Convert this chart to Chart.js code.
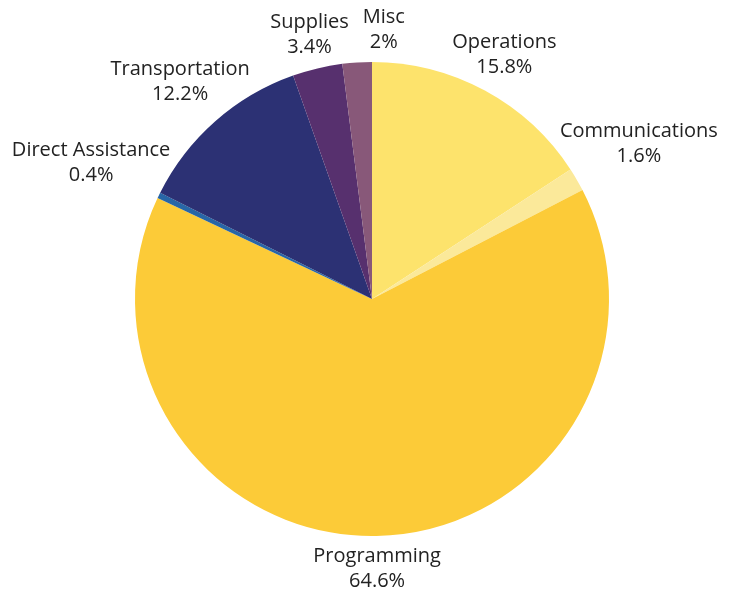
<!DOCTYPE html>
<html><head><meta charset="utf-8">
<script src="https://cdn.jsdelivr.net/npm/chart.js@4/dist/chart.umd.min.js"></script>
<style>html,body{margin:0;padding:0;background:#fff}#wrap{width:736px;height:593px}</style>
</head><body><div id="wrap"><canvas id="c" width="736" height="593"></canvas></div>
<script>
const categories = ["Operations","Communications","Programming","Direct Assistance","Transportation","Supplies","Misc"];
const values = [15.8, 1.6, 64.6, 0.4, 12.2, 3.4, 2];
const valueLabels = ["15.8%","1.6%","64.6%","0.4%","12.2%","3.4%","2%"];
const colors = ["#FDE36C","#FBE99A","#FCCB38","#2866A6","#2C3174","#57306E","#885879"];

const FONT = '20px "Open Sans", Lato, sans-serif';
const LINE_H = 25;

const outsideLabels = {
  id: 'outsideLabels',
  afterDraw(chart) {
    const ctx = chart.ctx;
    const meta = chart.getDatasetMeta(0);
    ctx.save();
    ctx.font = FONT;
    ctx.fillStyle = '#222';
    ctx.textAlign = 'center';
    ctx.textBaseline = 'middle';
    const boxes = [];
    meta.data.forEach((arc, i) => {
      const p = arc.getProps(['x','y','startAngle','endAngle','outerRadius'], true);
      const mid = (p.startAngle + p.endAngle) / 2;
      const c = Math.cos(mid), s = Math.sin(mid);
      const lines = [categories[i], valueLabels[i]];
      const w = Math.max(...lines.map(t => ctx.measureText(t).width));
      const h = LINE_H * 2;
      const rr = p.outerRadius + 33 + 0.66 * c * c * w / 2;
      boxes.push({cx: p.x + rr * c, cy: p.y + rr * s, w, h, lines});
    });
    // simple horizontal collision resolution: push later label right
    for (let i = 1; i < boxes.length; i++) {
      const a = boxes[i-1], b = boxes[i];
      const overlapY = Math.abs(a.cy - b.cy) < (a.h + b.h) / 2;
      if (!overlapY) continue;
      if (b.cx >= a.cx) {
        const gap = (b.cx - b.w/2) - (a.cx + a.w/2);
        if (gap < 14) b.cx += 14 - gap;
      }
    }
    boxes.forEach(b => {
      ctx.fillText(b.lines[0], b.cx, b.cy - LINE_H/2);
      ctx.fillText(b.lines[1], b.cx, b.cy + LINE_H/2);
    });
    ctx.restore();
  }
};

new Chart(document.getElementById('c'), {
  type: 'pie',
  data: { labels: categories, datasets: [{ data: values, backgroundColor: colors, borderWidth: 0 }] },
  options: {
    responsive: false,
    animation: false,
    layout: { padding: { top: 62, bottom: 57, left: 8, right: 0 } },
    plugins: { legend: { display: false }, tooltip: { enabled: false } }
  },
  plugins: [outsideLabels]
});
</script></body></html>
